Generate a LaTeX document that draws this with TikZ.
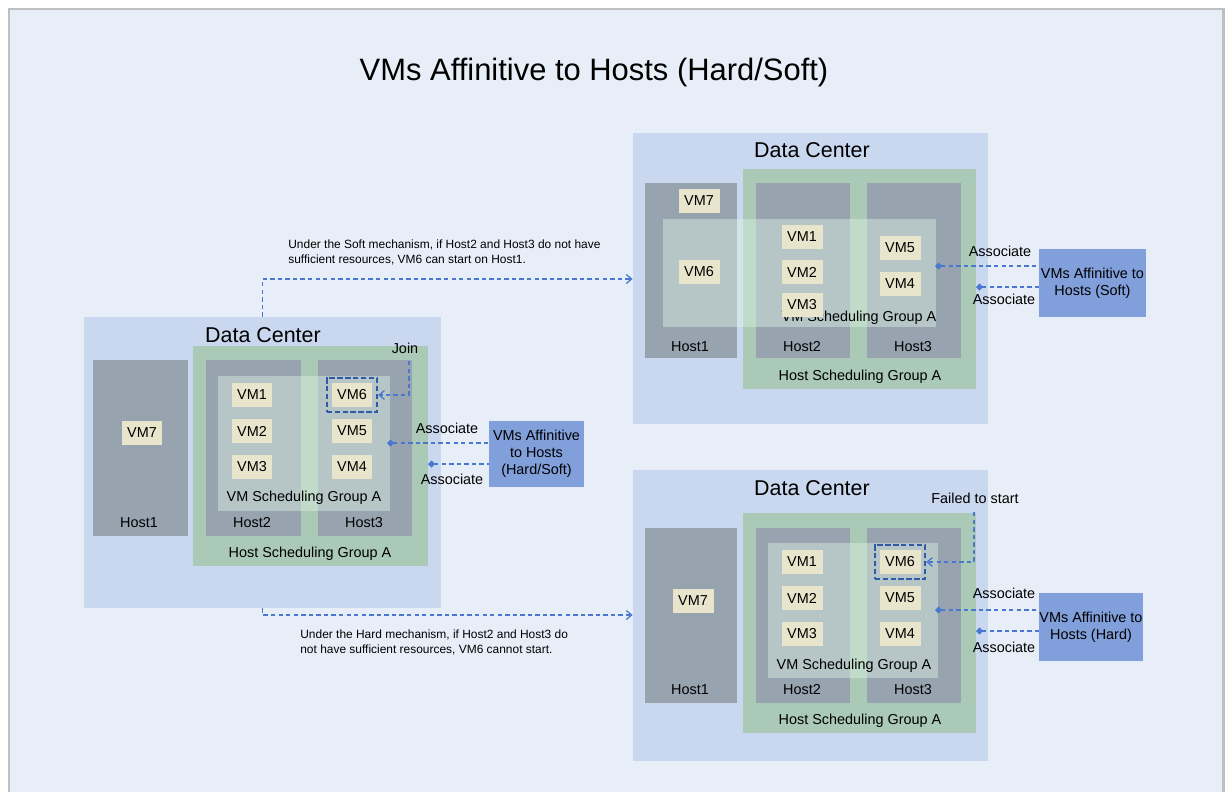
\documentclass[tikz,border=0pt]{standalone}
\usepackage{fontspec}
\setmainfont{Liberation Sans}
\definecolor{pagebg}{HTML}{E8EEF8}
\definecolor{framegray}{HTML}{C0C0C0}
\definecolor{dcblue}{HTML}{C9D7EF}
\definecolor{hgreen}{HTML}{ABC9B7}
\definecolor{hostgray}{HTML}{97A3AF}
\definecolor{vmtint}{HTML}{DDF2E4}
\definecolor{vmbeige}{HTML}{E8E5CC}
\definecolor{affblue}{HTML}{819FDA}
\definecolor{linkblue}{HTML}{4A78CF}
\definecolor{boxblue}{HTML}{2F5AA8}
\usetikzlibrary{arrows.meta, positioning, fit}

\begin{document}
\begin{tikzpicture}[x=0.02cm, y=-0.02cm,
   area/.style={inner sep=0pt, draw=none},
   dcbox/.style={area, fill=dcblue},
   hostgroup/.style={area, fill=hgreen},
   hostbox/.style={area, fill=hostgray},
   vmgroup/.style={area, fill=vmtint, fill opacity=0.45},
   vm/.style={fill=vmbeige, minimum width=0.82cm, minimum height=0.48cm, inner sep=0pt,
      font=\fontsize{8.2}{9.6}\selectfont},
   lbl/.style={inner sep=0pt, font=\fontsize{8.2}{9.6}\selectfont},
   dctitle/.style={inner sep=0pt, font=\fontsize{12.2}{14}\selectfont},
   note/.style={inner sep=0pt, align=left, anchor=west, font=\fontsize{6.8}{8.5}\selectfont},
   affbox/.style={area, fill=affblue, align=center, font=\fontsize{8.2}{9.6}\selectfont},
   picked/.style={draw=boxblue, line width=1pt, dash pattern=on 3pt off 1.5pt, inner sep=2.5pt},
   dashline/.style={draw=linkblue, line width=0.75pt, dash pattern=on 2.5pt off 1.8pt},
   barb/.style={dashline, -{Straight Barb[length=3pt, width=5pt]}},
   assoc/.style={dashline, {Diamond[length=4pt, width=4pt]}-}
]
\useasboundingbox (0,0) rectangle (1225,792);
\fill[white] (0,0) rectangle (1225,792);
\fill[pagebg] (9,9) rectangle (1223,792);
\draw[framegray, line width=1.7pt] (9,792) -- (9,9) -- (1223,9) -- (1223,792);

\node[inner sep=0pt, font=\fontsize{17.6}{20}\selectfont] (title) at (594,72) {VMs Affinitive to Hosts (Hard/Soft)};

% left data center
\node[dcbox, fit={(84,317) (441,608)}] (dca) {};
\node[hostgroup, fit={(193,346) (428,566)}] (hga) {};
\node[hostbox, fit={(93,360) (188,536)}] (hosta1) {};
\node[hostbox, fit={(206,360) (301,536)}] (hosta2) {};
\node[hostbox, fit={(318,360) (412,536)}] (hosta3) {};
\node[vmgroup, fit={(218,376) (390,511)}] (vga) {};
\node[dctitle] (dcta) at (263,335) {Data Center};
\node[lbl] (hgla) at (310,554) {Host Scheduling Group A};
\node[lbl] (vgla) at (304,498) {VM Scheduling Group A};
\node[lbl] (hla1) at (139,523) {Host1};
\node[lbl] (hla2) at (252,523) {Host2};
\node[lbl] (hla3) at (364,523) {Host3};
\node[vm] (vma7) at (142,433) {VM7};
\node[vm] (vma1) at (252,395) {VM1};
\node[vm] (vma2) at (252,431) {VM2};
\node[vm] (vma3) at (252,467) {VM3};
\node[vm] (vma6) at (352,395) {VM6};
\node[vm] (vma5) at (352,431) {VM5};
\node[vm] (vma4) at (352,467) {VM4};
\node[picked, fit=(vma6)] (picka) {};
\node[lbl] (joina) at (405,348) {Join};
\coordinate (joinsa) at (409,361);
\draw[barb] (joinsa) |- (picka.east);
\node[affbox, fit={(489,421) (584,487)}] (affa) {};
\node[lbl, align=center] (affta) at (affa.center) {VMs Affinitive\\to Hosts\\(Hard/Soft)};
\coordinate (asa1) at (387,443);
\coordinate (asa2) at (428,464);
\draw[assoc] (asa1) -- (asa1 -| affa.west);
\draw[assoc] (asa2) -- (asa2 -| affa.west);
\node[lbl] (ala1) at (447,428) {Associate};
\node[lbl] (ala2) at (452,479) {Associate};

% top right data center (soft)
\node[dcbox, fit={(633,133) (988,424)}] (dcb) {};
\node[hostgroup, fit={(743,169) (976,389)}] (hgb) {};
\node[hostbox, fit={(645,183) (737,358)}] (hostb1) {};
\node[hostbox, fit={(756,183) (850,358)}] (hostb2) {};
\node[hostbox, fit={(867,183) (961,358)}] (hostb3) {};
\node[vmgroup, fit={(663,219) (936,327)}] (vgb) {};
\node[dctitle] (dctb) at (812,150) {Data Center};
\node[lbl] (hglb) at (860,377) {Host Scheduling Group A};
\node[lbl] (vglb) at (859,318) {VM Scheduling Group A};
\node[lbl] (hlb1) at (690,347) {Host1};
\node[lbl] (hlb2) at (802,347) {Host2};
\node[lbl] (hlb3) at (913,347) {Host3};
\node[vm] (vmb7) at (699,201) {VM7};
\node[vm] (vmb6) at (699,272) {VM6};
\node[vm] (vmb1) at (802,237) {VM1};
\node[vm] (vmb2) at (802,272) {VM2};
\node[vm] (vmb3) at (802,305) {VM3};
\node[vm] (vmb5) at (900,248) {VM5};
\node[vm] (vmb4) at (900,284) {VM4};
\node[affbox, fit={(1039,249) (1146,317)}] (affb) {};
\node[lbl, align=center] (afftb) at (affb.center) {VMs Affinitive to\\Hosts (Soft)};
\coordinate (asb1) at (935,266);
\coordinate (asb2) at (976,287);
\draw[assoc] (asb1) -- (asb1 -| affb.west);
\draw[assoc] (asb2) -- (asb2 -| affb.west);
\node[lbl] (alb1) at (1000,251) {Associate};
\node[lbl] (alb2) at (1004,299) {Associate};

% bottom right data center (hard)
\node[dcbox, fit={(633,470) (988,761)}] (dcc) {};
\node[hostgroup, fit={(743,513) (976,733)}] (hgc) {};
\node[hostbox, fit={(645,528) (737,703)}] (hostc1) {};
\node[hostbox, fit={(756,528) (850,703)}] (hostc2) {};
\node[hostbox, fit={(867,528) (961,703)}] (hostc3) {};
\node[vmgroup, fit={(768,543) (938,678)}] (vgc) {};
\node[dctitle] (dctc) at (812,488) {Data Center};
\node[lbl] (hglc) at (860,721) {Host Scheduling Group A};
\node[lbl] (vglc) at (854,666) {VM Scheduling Group A};
\node[lbl] (hlc1) at (690,690) {Host1};
\node[lbl] (hlc2) at (802,690) {Host2};
\node[lbl] (hlc3) at (913,690) {Host3};
\node[vm] (vmc7) at (693,601) {VM7};
\node[vm] (vmc1) at (802,562) {VM1};
\node[vm] (vmc2) at (802,598) {VM2};
\node[vm] (vmc3) at (802,634) {VM3};
\node[vm] (vmc6) at (900,562) {VM6};
\node[vm] (vmc5) at (900,598) {VM5};
\node[vm] (vmc4) at (900,634) {VM4};
\node[picked, fit=(vmc6)] (pickc) {};
\node[lbl] (failc) at (975,498) {Failed to start};
\coordinate (failsc) at (974,512);
\draw[barb] (failsc) |- (pickc.east);
\node[affbox, fit={(1039,593) (1143,661)}] (affc) {};
\node[lbl, align=center] (afftc) at (affc.center) {VMs Affinitive to\\Hosts (Hard)};
\coordinate (asc1) at (935,610);
\coordinate (asc2) at (976,631);
\draw[assoc] (asc1) -- (asc1 -| affc.west);
\draw[assoc] (asc2) -- (asc2 -| affc.west);
\node[lbl] (alc1) at (1004,593) {Associate};
\node[lbl] (alc2) at (1004,647) {Associate};

% soft and hard outcomes
\draw[barb] (dca.north) |- (dcb.west |- 0,279);
\node[note] (softnote) at (288,252) {Under the Soft mechanism, if Host2 and Host3 do not have\\sufficient resources, VM6 can start on Host1.};
\draw[barb] (dca.south) |- (dcc.west |- 0,615);
\node[note] (hardnote) at (300,642) {Under the Hard mechanism, if Host2 and Host3 do\\not have sufficient resources, VM6 cannot start.};
\end{tikzpicture}
\end{document}
